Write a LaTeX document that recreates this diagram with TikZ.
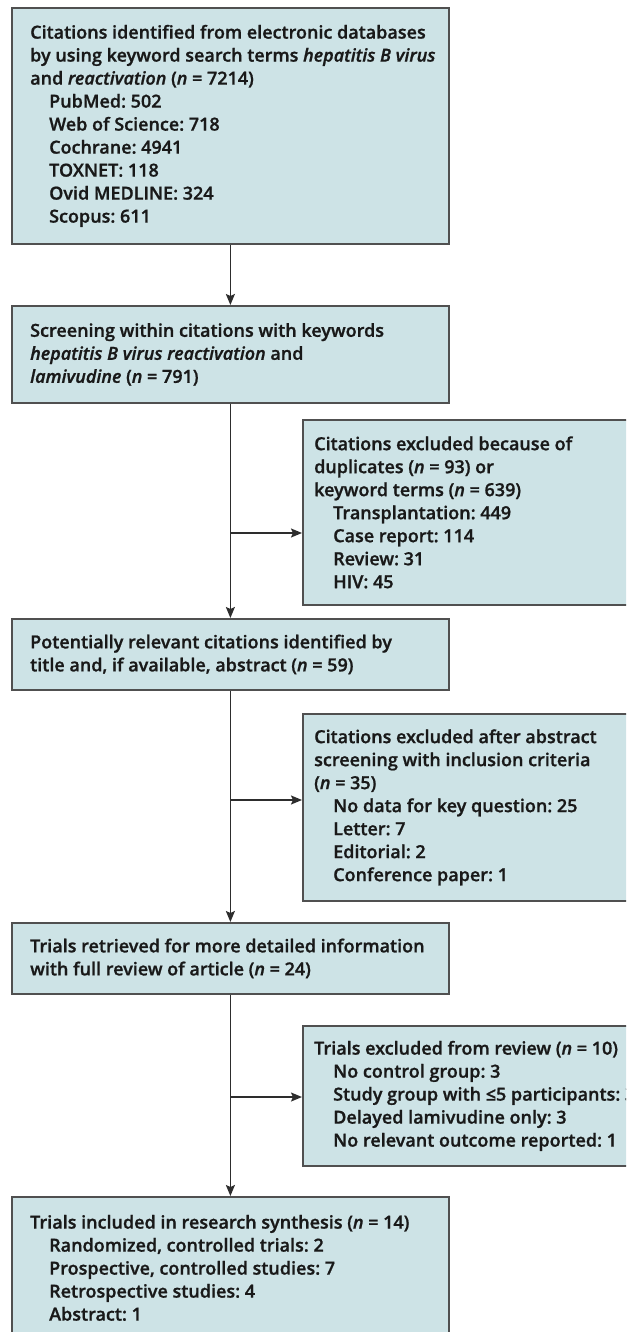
\documentclass[tikz,border=0pt]{standalone}
\usepackage{fontspec}
\IfFontExistsTF{Open Sans SemiBold}{%
  \setmainfont{Open Sans SemiBold}[FakeBold=1,ItalicFont={Open Sans SemiBold Italic}]}{%
  \IfFontExistsTF{Open Sans Semibold}{%
    \setmainfont{Open Sans Semibold}[FakeBold=1,ItalicFont={Open Sans Semibold Italic}]}{%
    \setmainfont{Open Sans}[FakeBold=2.8]}}
\frenchspacing
\usetikzlibrary{arrows.meta,calc}
\definecolor{boxfill}{RGB}{205,227,230}
\definecolor{boxline}{RGB}{80,80,80}
\definecolor{arrline}{RGB}{45,45,45}
\definecolor{txtcol}{RGB}{25,25,25}
\newcommand{\ind}{\hspace*{19pt}}
\tikzset{
  flowbox/.style={draw=boxline, line width=1.8pt, fill=boxfill, rectangle,
    anchor=north west, inner sep=0pt},
  boxtext/.style={anchor=west, align=left, inner sep=0pt, text=txtcol,
    font=\fontsize{18pt}{23pt}\selectfont\frenchspacing},
  arr/.style={draw=arrline, line width=1.5pt, -{Stealth[length=11pt,width=9pt,inset=2pt]}},
}
\begin{document}
\begin{tikzpicture}[x=1pt,y=-1pt]
\clip (0,0) rectangle (626,1332);
\fill[white] (0,0) rectangle (626,1332);
% boxes
\node[flowbox, minimum width=437pt, minimum height=236pt] (b1) at (11,7) {};
\node[flowbox, minimum width=437pt, minimum height=97pt] (b2) at (11,305) {};
\node[flowbox, minimum width=460pt, minimum height=185pt] (r1) at (302,419) {};
\node[flowbox, minimum width=437pt, minimum height=71pt] (b3) at (11,618) {};
\node[flowbox, minimum width=460pt, minimum height=187pt] (r2) at (302,713) {};
\node[flowbox, minimum width=437pt, minimum height=71pt] (b4) at (11,922) {};
\node[flowbox, minimum width=460pt, minimum height=140pt] (r3) at (302,1025) {};
\node[flowbox, minimum width=437pt, minimum height=142pt] (b5) at (11,1196) {};
% texts
\node[boxtext] (t1) at ([xshift=19pt]b1.west) {%
Citations identified from electronic databases\\
by using keyword search terms \textit{hepatitis B virus}\\
and \textit{reactivation} (\textit{n} = 7214)\\
\ind PubMed: 502\\
\ind Web of Science: 718\\
\ind Cochrane: 4941\\
\ind TOXNET: 118\\
\ind Ovid MEDLINE: 324\\
\ind Scopus: 611};
\node[boxtext] (t2) at ([xshift=19pt]b2.west) {%
Screening within citations with keywords\\
\textit{hepatitis B virus reactivation} and\\
\textit{lamivudine} (\textit{n} = 791)};
\node[boxtext] (tr1) at ([xshift=12pt]r1.west) {%
Citations excluded because of\\
duplicates (\textit{n} = 93) or\\
keyword terms (\textit{n} = 639)\\
\ind Transplantation: 449\\
\ind Case report: 114\\
\ind Review: 31\\
\ind HIV: 45};
\node[boxtext] (t3) at ([xshift=19pt]b3.west) {%
Potentially relevant citations identified by\\
title and, if available, abstract (\textit{n} = 59)};
\node[boxtext] (tr2) at ([xshift=12pt]r2.west) {%
Citations excluded after abstract\\
screening with inclusion criteria\\
(\textit{n} = 35)\\
\ind No data for key question: 25\\
\ind Letter: 7\\
\ind Editorial: 2\\
\ind Conference paper: 1};
\node[boxtext] (t4) at ([xshift=19pt]b4.west) {%
Trials retrieved for more detailed information\\
with full review of article (\textit{n} = 24)};
\node[boxtext] (tr3) at ([xshift=12pt]r3.west) {%
Trials excluded from review (\textit{n} = 10)\\
\ind No control group: 3\\
\ind Study group with ≤5 participants: 3\\
\ind Delayed lamivudine only: 3\\
\ind No relevant outcome reported: 1};
\node[boxtext] (t5) at ([xshift=19pt]b5.west) {%
Trials included in research synthesis (\textit{n} = 14)\\
\ind Randomized, controlled trials: 2\\
\ind Prospective, controlled studies: 7\\
\ind Retrospective studies: 4\\
\ind Abstract: 1};
% connectors
\draw[arr] (b1.south) -- (b2.north);
\draw[arr] (b2.south) -- (b3.north);
\draw[arr] (b3.south) -- (b4.north);
\draw[arr] (b4.south) -- (b5.north);
\coordinate (j1) at (b2.south |- 0,533);
\coordinate (j2) at (b3.south |- 0,800);
\coordinate (j3) at (b4.south |- 0,1097);
\draw[arr] (j1) -- (j1 -| r1.west);
\draw[arr] (j2) -- (j2 -| r2.west);
\draw[arr] (j3) -- (j3 -| r3.west);
\end{tikzpicture}
\end{document}
